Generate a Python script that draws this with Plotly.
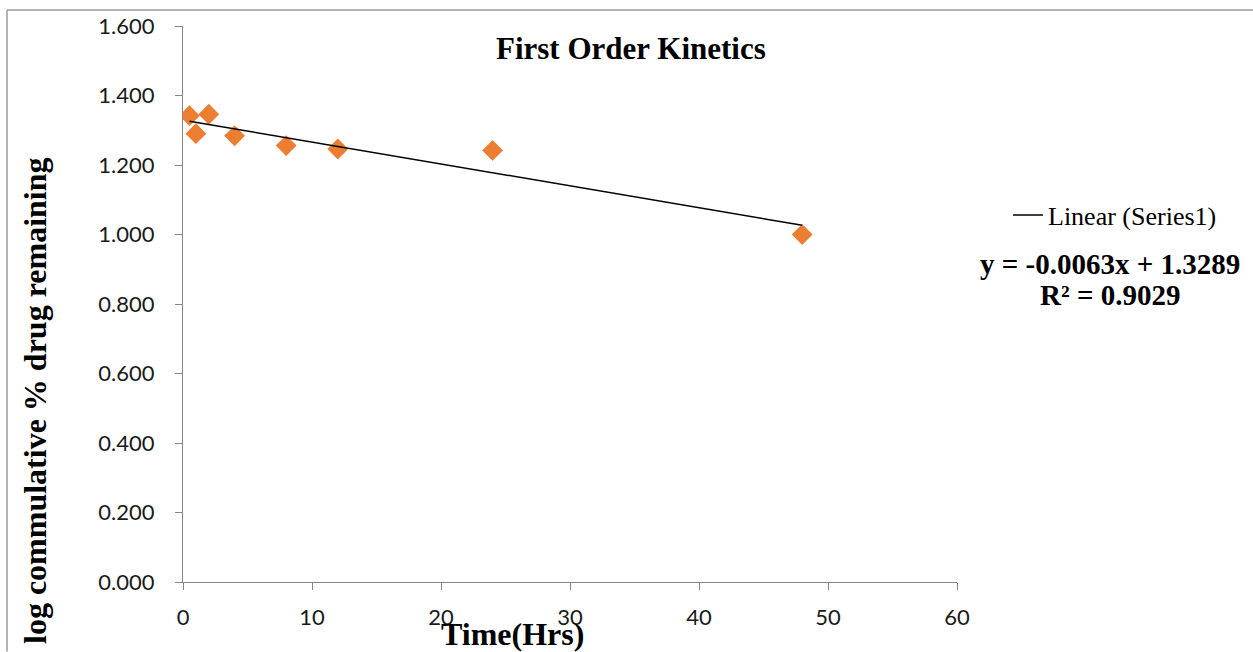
import numpy as np
import plotly.graph_objects as go

# Release data: time points (hours) and log cumulative % drug remaining
time_hrs = [0.5, 1, 2, 4, 8, 12, 24, 48]
log_remaining = [1.342, 1.290, 1.346, 1.284, 1.256, 1.246, 1.242, 1.000]

# Linear trendline coefficients as reported on the chart
SLOPE = -0.0063
INTERCEPT = 1.3289
R_SQUARED = 0.9029

x_ticks = [0, 10, 20, 30, 40, 50, 60]
y_ticks = [0.0, 0.2, 0.4, 0.6, 0.8, 1.0, 1.2, 1.4, 1.6]

W, H = 1253, 652
L, R, T, B = 183, 296, 23, 70
PW, PH = W - L - R, H - T - B


def px(xp):
    return (xp - L) / PW


def py(yp):
    return (H - B - yp) / PH


trend_x = np.array([min(time_hrs), max(time_hrs)])
trend_y = SLOPE * trend_x + INTERCEPT

fig = go.Figure()
fig.add_trace(go.Scatter(
    x=time_hrs, y=log_remaining, mode="markers", name="Series1",
    marker=dict(symbol="diamond", size=16, color="#ED7D31", line=dict(width=0)),
    showlegend=False,
))
fig.add_trace(go.Scatter(
    x=trend_x, y=trend_y, mode="lines", name="Linear (Series1)",
    line=dict(color="black", width=1.5), showlegend=True,
))

axis_common = dict(
    showgrid=False, zeroline=False, showline=True, linecolor="#868686", linewidth=1,
    ticks="outside", ticklen=7, tickcolor="#868686", tickwidth=1,
    tickfont=dict(family="Lato", size=22, color="#1a1a1a"),
)
fig.update_xaxes(range=[0, 60], tickvals=x_ticks, ticklabelstandoff=9, **axis_common)
fig.update_yaxes(range=[0, 1.6], tickvals=y_ticks, tickformat=".3f",
                 ticklabelstandoff=16, **axis_common)

serif = "Liberation Serif, Times New Roman, serif"
eq_text = f"y = {SLOPE:.4f}x + {INTERCEPT:.4f}"
annotations = [
    dict(text="<b>First Order Kinetics</b>", x=px(631), y=py(46),
         font=dict(family=serif, size=31, color="black")),
    dict(text="<b>Time(Hrs)</b>", x=px(512), y=py(634),
         font=dict(family=serif, size=32, color="black")),
    dict(text="<b>log commulative % drug remaining</b>", x=px(35), y=py(400),
         textangle=-90, font=dict(family=serif, size=32, color="black")),
    dict(text=f"<b>{eq_text}</b>", x=px(1110), y=py(262),
         font=dict(family=serif, size=29, color="black")),
    dict(text=f"<b>R² = {R_SQUARED:.4f}</b>", x=px(1110), y=py(293),
         font=dict(family=serif, size=29, color="black")),
]
for a in annotations:
    a.update(xref="paper", yref="paper", showarrow=False,
             xanchor="center", yanchor="middle")

# Outer chart border (top and left edges)
border = dict(color="#9a9a9a", width=1.5)
shapes = [
    dict(type="line", xref="paper", yref="paper", x0=px(7), x1=px(W), y0=py(7), y1=py(7), line=border),
    dict(type="line", xref="paper", yref="paper", x0=px(7), x1=px(7), y0=py(7), y1=py(H), line=border),
]

fig.update_layout(
    width=W, height=H,
    margin=dict(l=L, r=R, t=T, b=B, pad=0),
    paper_bgcolor="white", plot_bgcolor="white",
    annotations=annotations, shapes=shapes,
    showlegend=True,
    legend=dict(x=px(1008), y=py(213), xanchor="left", yanchor="middle",
                bgcolor="rgba(0,0,0,0)", borderwidth=0,
                font=dict(family=serif, size=26, color="black")),
)

fig.write_html("out.html")
